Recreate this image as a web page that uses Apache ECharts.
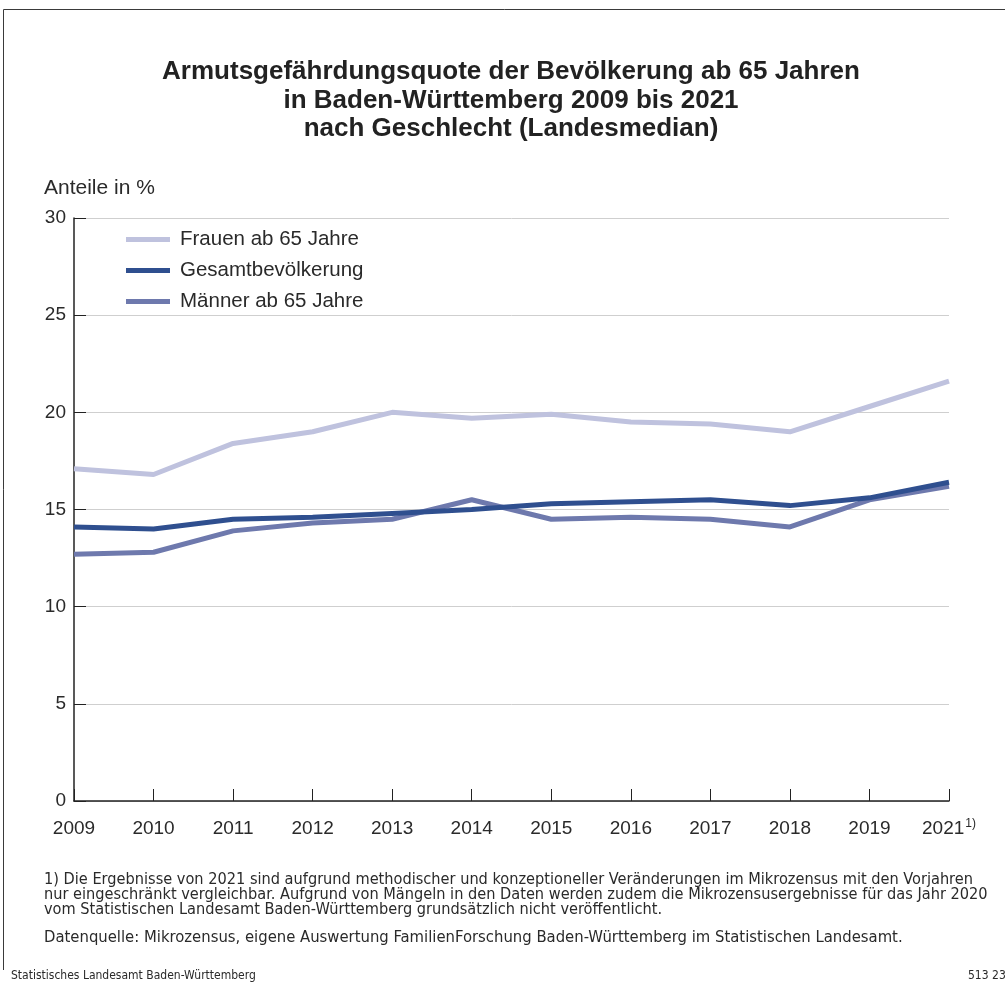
<!DOCTYPE html>
<html>
<head>
<meta charset="utf-8">
<script src="https://cdn.jsdelivr.net/npm/echarts@6/dist/echarts.min.js"></script>
<style>
html,body{margin:0;padding:0;background:#fff;}
#chart{width:1005px;height:982px;}
</style>
</head>
<body>
<div id="chart"></div>
<script>
const years = ['2009','2010','2011','2012','2013','2014','2015','2016','2017','2018','2019','2021'];
const frauen = [17.1, 16.8, 18.4, 19.0, 20.0, 19.7, 19.9, 19.5, 19.4, 19.0, 20.3, 21.6];
const gesamt = [14.1, 14.0, 14.5, 14.6, 14.8, 15.0, 15.3, 15.4, 15.5, 15.2, 15.6, 16.4];
const maenner = [12.7, 12.8, 13.9, 14.3, 14.5, 15.5, 14.5, 14.6, 14.5, 14.1, 15.5, 16.2];
const yTicks = [0, 5, 10, 15, 20, 25, 30];
const seriesNames = ['Frauen ab 65 Jahre', 'Gesamtbevölkerung', 'Männer ab 65 Jahre'];

const FONT = "'Liberation Sans', Arial, sans-serif";
const NARROW = "'Liberation Sans Narrow', 'DejaVu Sans Condensed', sans-serif";
const colors = { frauen: '#bfc2de', gesamt: '#2f4f8f', maenner: '#6e79ad' };

const chart = echarts.init(document.getElementById('chart'), null, {renderer: 'canvas'});
chart.setOption({
  animation: false,
  backgroundColor: '#fff',
  grid: { left: 74, right: 56, top: 218, bottom: 181, containLabel: false },
  legend: {
    orient: 'vertical',
    left: 126,
    top: 229,
    padding: 0,
    data: [seriesNames[0], seriesNames[1], seriesNames[2]],
    icon: 'rect',
    itemWidth: 44,
    itemHeight: 5,
    itemGap: 10,
    textStyle: { fontFamily: FONT, fontSize: 20.5, color: '#2a2a2a', lineHeight: 20, padding: [0,0,0,5] }
  },
  xAxis: {
    type: 'category',
    data: years,
    boundaryGap: false,
    axisLine: { lineStyle: { color: '#222', width: 1.5 } },
    axisTick: { inside: true, length: 12, interval: 0, lineStyle: { color: '#222', width: 1 } },
    axisLabel: {
      interval: 0, showMaxLabel: true, showMinLabel: true,
      fontFamily: FONT, fontSize: 19, color: '#2a2a2a', margin: 17, lineHeight: 22,
      formatter: function (v) { return v === '2021' ? '{n|' + v + '}{sup|1)}' : '{n|' + v + '}'; },
      rich: {
        n: { fontFamily: FONT, fontSize: 19, color: '#2a2a2a', lineHeight: 22 },
        sup: { fontFamily: FONT, fontSize: 12, color: '#2a2a2a', lineHeight: 12, verticalAlign: 'top', padding: [0,0,0,1] }
      }
    },
    splitLine: { show: false }
  },
  yAxis: {
    type: 'value',
    min: 0, max: 30, interval: 5,
    axisLine: { show: true, lineStyle: { color: '#222', width: 1.5 } },
    axisTick: { show: true, inside: true, length: 12, lineStyle: { color: '#222', width: 1 } },
    axisLabel: { fontFamily: FONT, fontSize: 19, color: '#2a2a2a', margin: 8,
      formatter: function (v) { return yTicks.indexOf(v) >= 0 ? String(v) : ''; } },
    splitLine: { show: true, lineStyle: { color: '#cfcfcf', width: 1 } }
  },
  series: [
    { name: seriesNames[0], type: 'line', data: frauen, showSymbol: false, symbol: 'none',
      lineStyle: { color: colors.frauen, width: 5 }, itemStyle: { color: colors.frauen }, z: 2 },
    { name: seriesNames[2], type: 'line', data: maenner, showSymbol: false, symbol: 'none',
      lineStyle: { color: colors.maenner, width: 5 }, itemStyle: { color: colors.maenner }, z: 3 },
    { name: seriesNames[1], type: 'line', data: gesamt, showSymbol: false, symbol: 'none',
      lineStyle: { color: colors.gesamt, width: 5 }, itemStyle: { color: colors.gesamt }, z: 4 }
  ],
  graphic: [
    { type: 'polyline', silent: true, shape: { points: [[3.5, 970], [3.5, 9.5], [1010, 9.5]] },
      style: { stroke: '#3a3a3a', lineWidth: 1, fill: null } },
    { type: 'text', x: 511, y: 58, silent: true,
      style: { text: 'Armutsgefährdungsquote der Bevölkerung ab 65 Jahren\nin Baden-Württemberg 2009 bis 2021\nnach Geschlecht (Landesmedian)',
        fontFamily: FONT, fontSize: 26, fontWeight: 'bold', fill: '#222', align: 'center', lineHeight: 28.5 } },
    { type: 'text', left: 44, top: 178, silent: true,
      style: { text: 'Anteile in %', fontFamily: FONT, fontSize: 21, fill: '#2a2a2a' } },
    { type: 'text', left: 44, top: 872, silent: true,
      style: { text: '1) Die Ergebnisse von 2021 sind aufgrund methodischer und konzeptioneller Veränderungen im Mikrozensus mit den Vorjahren\nnur eingeschränkt vergleichbar. Aufgrund von Mängeln in den Daten werden zudem die Mikrozensusergebnisse für das Jahr 2020\nvom Statistischen Landesamt Baden-Württemberg grundsätzlich nicht veröffentlicht.',
        fontFamily: NARROW, fontSize: 16.2, fill: '#2a2a2a', lineHeight: 15 } },
    { type: 'text', left: 44, top: 929, silent: true,
      style: { text: 'Datenquelle: Mikrozensus, eigene Auswertung FamilienForschung Baden-Württemberg im Statistischen Landesamt.',
        fontFamily: NARROW, fontSize: 16.5, fill: '#2a2a2a' } },
    { type: 'text', left: 11, top: 970, silent: true,
      style: { text: 'Statistisches Landesamt Baden-Württemberg', fontFamily: NARROW, fontSize: 12, fill: '#2a2a2a' } },
    { type: 'text', left: 968, top: 970, silent: true,
      style: { text: '513 23', fontFamily: NARROW, fontSize: 12, fill: '#2a2a2a' } }
  ]
});
</script>
</body>
</html>
